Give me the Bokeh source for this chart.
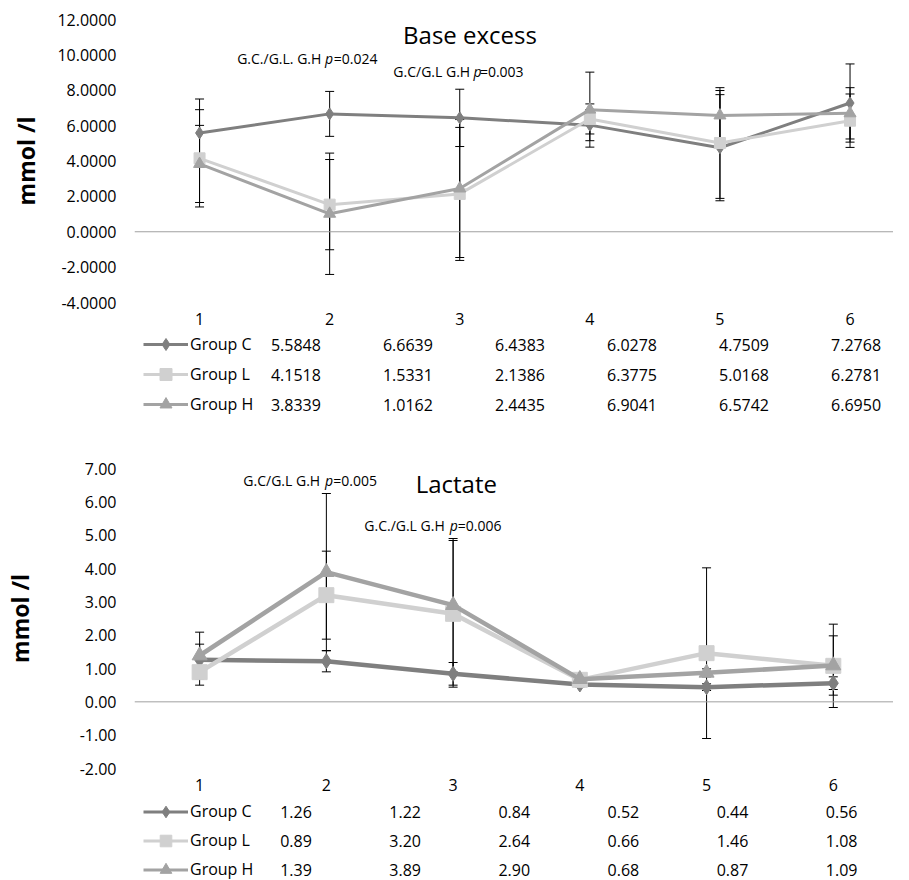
import numpy as np
from bokeh.plotting import figure
from bokeh.models import (Range1d, FixedTicker, NumeralTickFormatter, Span, Whisker, TeeHead,
                          ColumnDataSource, Label, Legend, LegendItem)
from bokeh.layouts import column
from bokeh.embed import file_html
from bokeh.resources import INLINE
from bokeh.core.properties import value

# ---------------- data ----------------
timepoints = [1, 2, 3, 4, 5, 6]
groups = ["Group C", "Group L", "Group H"]

be_c = [5.5848, 6.6639, 6.4383, 6.0278, 4.7509, 7.2768]
be_l = [4.1518, 1.5331, 2.1386, 6.3775, 5.0168, 6.2781]
be_h = [3.8339, 1.0162, 2.4435, 6.9041, 6.5742, 6.6950]
be_c_err = [1.92, 1.27, 1.62, 0.88, 3.00, 2.21]
be_l_err = [2.75, 2.55, 3.76, 0.85, 3.13, 1.51]
be_h_err = [2.18, 3.43, 3.90, 2.12, 1.41, 1.45]
be_ticks = [-4, -2, 0, 2, 4, 6, 8, 10, 12]

lac_c = [1.26, 1.22, 0.84, 0.52, 0.44, 0.56]
lac_l = [0.89, 3.20, 2.64, 0.66, 1.46, 1.08]
lac_h = [1.39, 3.89, 2.90, 0.68, 0.87, 1.09]
lac_c_err = [0.47, 0.32, 0.34, 0.08, 0.10, 0.19]
lac_l_err = [0.39, 1.32, 2.20, 0.08, 2.56, 1.25]
lac_h_err = [0.70, 2.36, 2.00, 0.08, 0.12, 0.89]
lac_ticks = [-2, -1, 0, 1, 2, 3, 4, 5, 6, 7]

# ---------------- styles ----------------
W = 893
LEFT = 124
FONT = "Open Sans"
colors = ["#7f7f7f", "#d0d0d0", "#a3a3a3"]
markers = ["diamond", "square", "triangle"]


def style_chart(p, ticks, fmt, label_standoff):
    p.outline_line_color = None
    p.xgrid.visible = False
    p.ygrid.visible = False
    p.background_fill_color = "white"
    p.border_fill_color = "white"
    ya = p.yaxis[0]
    ya.ticker = FixedTicker(ticks=ticks)
    ya.formatter = NumeralTickFormatter(format=fmt)
    ya.axis_line_color = None
    ya.major_tick_line_color = None
    ya.minor_tick_line_color = None
    ya.major_tick_out = 0
    ya.major_tick_in = 0
    ya.major_label_standoff = 18
    ya.major_label_text_font = FONT
    ya.major_label_text_font_size = "16px"
    ya.major_label_text_color = "black"
    ya.axis_label = "mmol /l"
    ya.axis_label_text_font = FONT
    ya.axis_label_text_font_style = "bold"
    ya.axis_label_text_font_size = "23px"
    ya.axis_label_text_color = "black"
    ya.axis_label_standoff = label_standoff
    xa = p.xaxis[0]
    xa.ticker = FixedTicker(ticks=timepoints)
    xa.axis_line_color = None
    xa.major_tick_line_color = None
    xa.minor_tick_line_color = None
    xa.major_tick_out = 0
    xa.major_tick_in = 0
    xa.major_label_standoff = 10
    xa.major_label_text_font = FONT
    xa.major_label_text_font_size = "16px"
    xa.major_label_text_color = "black"
    p.add_layout(Span(location=0, dimension="width", line_color="#a0a0a0", line_width=1))


def draw_series(p, means, errs, lw, sizes):
    for vals, err in zip(means, errs):
        up = [v + e for v, e in zip(vals, err)]
        lo = [v - e for v, e in zip(vals, err)]
        src = ColumnDataSource(dict(x=timepoints, upper=up, lower=lo))
        p.add_layout(Whisker(base="x", upper="upper", lower="lower", source=src,
                             line_color="black", line_width=1,
                             upper_head=TeeHead(size=9, line_color="black", line_width=1),
                             lower_head=TeeHead(size=9, line_color="black", line_width=1)))
    for vals, col, mk, sz in zip(means, colors, markers, sizes):
        p.line(timepoints, vals, line_color=col, line_width=lw)
        p.scatter(timepoints, vals, marker=mk, size=sz, fill_color=col, line_color=col)


def annotate(p, x_pre, x_p, x_suf, y, prefix, suffix):
    p.add_layout(Label(x=x_pre, y=y, text=prefix, text_align="right", text_baseline="middle",
                       text_font=FONT, text_font_size="14px", text_color="black"))
    p.add_layout(Label(x=x_p, y=y, text="p", text_align="left", text_baseline="middle",
                       text_font=FONT, text_font_size="14px", text_font_style="italic",
                       text_color="black"))
    p.add_layout(Label(x=x_suf, y=y, text=suffix, text_align="left", text_baseline="middle",
                       text_font=FONT, text_font_size="14px", text_color="black"))


def make_table(x_range_chart, height, row0, row_h, vals_list, fmt):
    ppu = (x_range_chart.end - x_range_chart.start) / (W - LEFT)
    xr = Range1d(x_range_chart.start - LEFT * ppu, x_range_chart.end)
    yr = Range1d((height - row0) / row_h, -row0 / row_h)
    t = figure(width=W, height=height, x_range=xr, y_range=yr, min_border=0,
               min_border_left=0, min_border_right=0, min_border_top=0, min_border_bottom=0,
               output_backend="svg", toolbar_location=None)
    t.axis.visible = False
    t.xgrid.visible = False
    t.ygrid.visible = False
    t.outline_line_color = None
    xs, ys, txt = [], [], []
    for r, vals in enumerate(vals_list):
        for x, v in zip(timepoints, vals):
            xs.append(x)
            ys.append(r)
            txt.append(format(v, fmt))
    t.text(x=xs, y=ys, text=txt, text_font=value(FONT), text_font_size="16px",
           text_align="center", text_baseline="middle", text_color="black")
    items = []
    for g, col, mk in zip(groups, colors, markers):
        rl = t.line(x=np.array([np.nan]), y=np.array([np.nan]), line_color=col, line_width=3)
        rs = t.scatter(x=np.array([np.nan]), y=np.array([np.nan]), marker=mk, size=8,
                       fill_color=col, line_color=col)
        items.append(LegendItem(label=g, renderers=[rl, rs]))
    leg_top = row0 - row_h / 2
    leg_h = 3 * row_h
    leg = Legend(items=items, location=(9, height - (leg_top + leg_h)), orientation="vertical",
                 glyph_width=45, glyph_height=row_h, label_height=row_h, spacing=0,
                 padding=0, margin=0, label_standoff=2, label_text_font=FONT,
                 label_text_font_size="16px", label_text_color="black",
                 border_line_color=None, background_fill_alpha=0)
    t.add_layout(leg)
    return t


# ---------------- chart A: base excess ----------------
xA = Range1d(0.5, 6.334)
pA = figure(width=W, height=333, x_range=xA, y_range=Range1d(-4, 12),
            min_border_left=LEFT, min_border_right=0, min_border_top=19, min_border_bottom=31,
            output_backend="svg", toolbar_location=None)
style_chart(pA, be_ticks, "0.0000", 12)
draw_series(pA, [be_c, be_l, be_h], [be_c_err, be_l_err, be_h_err], 3, [12, 11, 12])
pA.add_layout(Label(x=3.079, y=11.15, text="Base excess", text_align="center",
                    text_baseline="middle", text_font=FONT, text_font_size="24px",
                    text_color="black"))
annotate(pA, 1.936, 1.964, 2.032, 9.795, "G.C./G.L. G.H", "=0.024")
annotate(pA, 3.080, 3.105, 3.155, 9.06, "G.C/G.L G.H", "=0.003")

tA = make_table(xA, 91, 11, 30, [be_c, be_l, be_h], ".4f")

# ---------------- chart B: lactate ----------------
xB = Range1d(0.486, 6.475)
pB = figure(width=W, height=374, x_range=xB, y_range=Range1d(-2, 7),
            min_border_left=LEFT, min_border_right=0, min_border_top=44, min_border_bottom=30,
            output_backend="svg", toolbar_location=None)
style_chart(pB, lac_ticks, "0.00", 41)
draw_series(pB, [lac_c, lac_l, lac_h], [lac_c_err, lac_l_err, lac_h_err], 4.5, [15, 15, 15])
pB.add_layout(Label(x=3.025, y=6.56, text="Lactate", text_align="center",
                    text_baseline="middle", text_font=FONT, text_font_size="24px",
                    text_color="black"))
annotate(pB, 1.951, 1.989, 2.054, 6.628, "G.C/G.L G.H", "=0.005")
annotate(pB, 2.934, 2.974, 3.037, 5.299, "G.C./G.L G.H", "=0.006")

tB = make_table(xB, 82, 13, 29, [lac_c, lac_l, lac_h], ".2f")

layout = column(pA, tA, pB, tB, spacing=0)
open("out.html", "w").write(file_html(layout, INLINE))
